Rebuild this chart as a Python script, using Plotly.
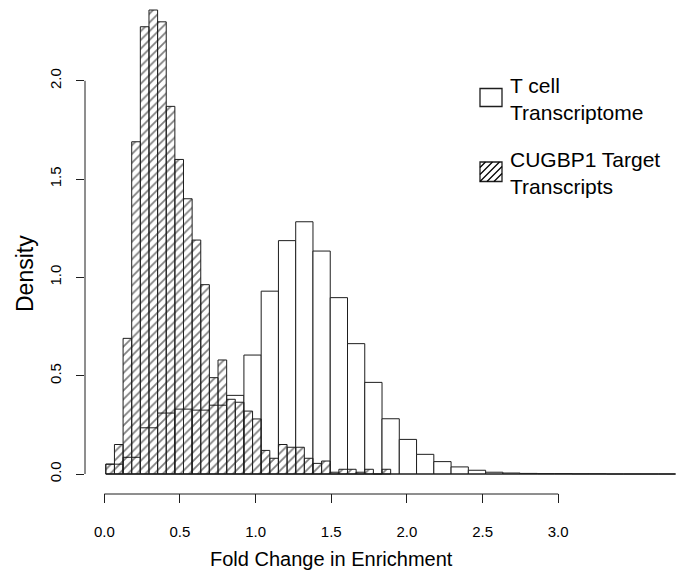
import plotly.graph_objects as go

# ---------------- data ----------------
# T cell transcriptome histogram (density per bin)
tcell_density = [0.05, 0.085, 0.235, 0.31, 0.33, 0.325, 0.35, 0.40, 0.605, 0.93,
                 1.187, 1.283, 1.134, 0.897, 0.663, 0.466, 0.281, 0.176, 0.10, 0.063,
                 0.036, 0.019, 0.009, 0.005, 0.003, 0.002, 0.002, 0.001, 0.001,
                 0.0, 0.0, 0.0, 0.0]
tcell_bin_start = 0.01
tcell_bin_width = 0.1141

# CUGBP1 target transcripts histogram (density per bin)
target_density = [0.05, 0.15, 0.69, 1.69, 2.275, 2.36, 2.30, 1.87, 1.60, 1.40,
                  1.19, 0.963, 0.49, 0.58, 0.38, 0.365, 0.32, 0.28, 0.12, 0.08,
                  0.15, 0.136, 0.136, 0.08, 0.054, 0.066, 0.009, 0.024, 0.024, 0.009,
                  0.024, 0.0, 0.024]
target_bin_start = 0.01
target_bin_width = 0.05705

x_ticks = [0.0, 0.5, 1.0, 1.5, 2.0, 2.5, 3.0]
x_tick_labels = ["0.0", "0.5", "1.0", "1.5", "2.0", "2.5", "3.0"]
y_ticks = [0.0, 0.5, 1.0, 1.5, 2.0]
y_tick_labels = ["0.0", "0.5", "1.0", "1.5", "2.0"]

legend_labels = ["T cell<br>Transcriptome", "CUGBP1 Target<br>Transcripts"]
x_title = "Fold Change in Enrichment"
y_title = "Density"

# ---------------- derived ----------------
tcell_x = [tcell_bin_start + (i + 0.5) * tcell_bin_width for i in range(len(tcell_density))]
target_x = [target_bin_start + (i + 0.5) * target_bin_width for i in range(len(target_density))]

OFF = 8  # page body margin
W, H = 685 - OFF, 570 - OFF
ML, MR, MT = 85 - OFF, 0, 0
PLOT_BOTTOM_REF = 493
MB = H - (PLOT_BOTTOM_REF - OFF)
PW, PH = W - ML - MR, H - MT - MB

def px(xr):  # reference pixel -> paper x
    return (xr - OFF - ML) / PW

def py(yr):  # reference pixel -> paper y
    return (PLOT_BOTTOM_REF - yr) / PH

X0_REF, X_SCALE = 104.3, 151.3   # ref px of x=0, px per unit
Y0_REF, Y_SCALE = 474.0, 196.6   # ref px of y=0, px per unit

FONT = "Liberation Sans, Arial, Helvetica, sans-serif"
LINE = "#1e1e1e"

fig = go.Figure()
fig.add_trace(go.Bar(
    x=tcell_x, y=tcell_density, width=[tcell_bin_width] * len(tcell_density),
    marker=dict(color="white", line=dict(color=LINE, width=1)),
    name="T cell Transcriptome", showlegend=False, hoverinfo="skip"))
fig.add_trace(go.Bar(
    x=target_x, y=target_density, width=[target_bin_width] * len(target_density),
    marker=dict(color="rgba(0,0,0,0)", line=dict(color=LINE, width=1),
                pattern=dict(shape="/", fgcolor="#000000", bgcolor="rgba(0,0,0,0)",
                             size=6.2, solidity=0.28)),
    name="CUGBP1 Target Transcripts", showlegend=False, hoverinfo="skip"))

shapes = []
# R-style axis lines spanning only first..last tick
shapes.append(dict(type="line", xref="x", yref="paper", x0=x_ticks[0], x1=x_ticks[-1],
                   y0=py(494), y1=py(494), line=dict(color=LINE, width=1)))
shapes.append(dict(type="line", xref="paper", yref="y", x0=0, x1=0,
                   y0=y_ticks[0], y1=y_ticks[-1], line=dict(color=LINE, width=1)))
# baseline (zero-height bins)
tcell_end = tcell_bin_start + len(tcell_density) * tcell_bin_width
shapes.append(dict(type="line", xref="x", yref="y", x0=tcell_bin_start, x1=tcell_end,
                   y0=0, y1=0, line=dict(color=LINE, width=1)))

# legend boxes
bx0, bx1 = 480, 502
box1 = (88.5, 106.5)
box2 = (162, 181.5)
for (ya, yb) in (box1, box2):
    shapes.append(dict(type="rect", xref="paper", yref="paper",
                       x0=px(bx0), x1=px(bx1), y0=py(yb), y1=py(ya),
                       line=dict(color=LINE, width=1.3), fillcolor="white"))
# hatch lines in second legend box
ya, yb = box2
w, h = bx1 - bx0, yb - ya
for c in (-14, -7, 0, 7, 14):
    x_start = max(0, -c)
    x_end = min(w, h - c)
    if x_end - x_start <= 0.5:
        continue
    X0, Y0 = x_start, x_start + c
    X1, Y1 = x_end, x_end + c
    shapes.append(dict(type="line", xref="paper", yref="paper",
                       x0=px(bx0 + X0), y0=py(yb - Y0), x1=px(bx0 + X1), y1=py(yb - Y1),
                       line=dict(color="#000000", width=1.2)))

annotations = [
    dict(text=legend_labels[0], x=px(508), y=py(98.5), xref="paper", yref="paper",
         xanchor="left", yanchor="middle", showarrow=False, align="left",
         font=dict(family=FONT, size=21, color="black")),
    dict(text=legend_labels[1], x=px(508), y=py(172.5), xref="paper", yref="paper",
         xanchor="left", yanchor="middle", showarrow=False, align="left",
         font=dict(family=FONT, size=21, color="black")),
    dict(text=x_title, x=px(331), y=py(559), xref="paper", yref="paper",
         xanchor="center", yanchor="middle", showarrow=False,
         font=dict(family=FONT, size=20, color="black")),
    dict(text=y_title, x=px(25), y=py(274), xref="paper", yref="paper",
         xanchor="center", yanchor="middle", showarrow=False, textangle=-90,
         font=dict(family=FONT, size=23, color="black")),
]

fig.update_layout(
    width=W, height=H, margin=dict(l=ML, r=MR, t=MT, b=MB, pad=0),
    paper_bgcolor="white", plot_bgcolor="white",
    barmode="overlay", showlegend=False,
    shapes=shapes, annotations=annotations,
    font=dict(family=FONT, color="black"),
)
x_lo = (ML + OFF - X0_REF) / X_SCALE
x_hi = (W + OFF - X0_REF) / X_SCALE
fig.update_xaxes(range=[x_lo, x_hi], showgrid=False, zeroline=False, showline=False,
                 tickmode="array", tickvals=x_ticks, ticktext=x_tick_labels,
                 ticks="outside", ticklen=9, tickwidth=1, tickcolor=LINE,
                 ticklabelstandoff=16,
                 tickfont=dict(family=FONT, size=15, color="black"))
y_lo = -(PLOT_BOTTOM_REF - Y0_REF) / Y_SCALE
y_hi = (Y0_REF - OFF) / Y_SCALE
fig.update_yaxes(range=[y_lo, y_hi], showgrid=False, zeroline=False, showline=False,
                 tickmode="array", tickvals=y_ticks, ticktext=y_tick_labels,
                 ticks="outside", ticklen=8, tickwidth=1, tickcolor=LINE,
                 tickangle=-90, ticklabelstandoff=9,
                 tickfont=dict(family=FONT, size=15, color="black"))

fig.write_html("out.html")
